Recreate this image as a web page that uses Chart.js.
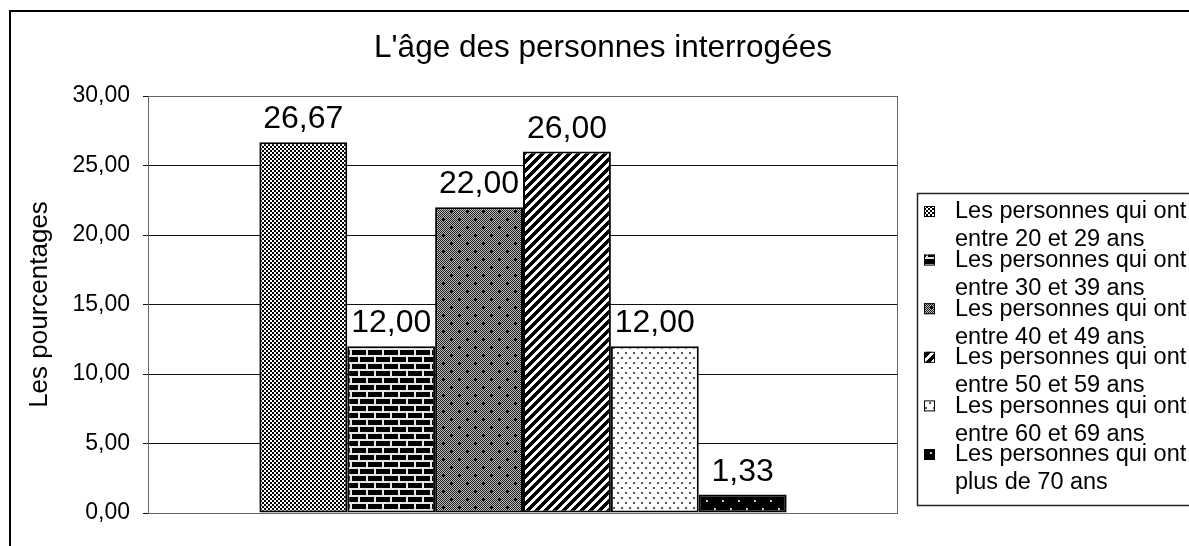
<!DOCTYPE html>
<html>
<head>
<meta charset="utf-8">
<title>L'âge des personnes interrogées</title>
<script src="https://cdn.jsdelivr.net/npm/chart.js@4.4.1/dist/chart.umd.min.js"></script>
<style>
  html, body { margin: 0; padding: 0; background: #fff; }
</style>
</head>
<body>
<canvas id="myChart" width="1189" height="546"></canvas>
<script>
var titre = "L'âge des personnes interrogées";
var titreAxe = "Les pourcentages";
var debutLegende = "Les personnes qui ont";
var tranches = ["entre 20 et 29 ans", "entre 30 et 39 ans", "entre 40 et 49 ans",
                "entre 50 et 59 ans", "entre 60 et 69 ans", "plus de 70 ans"];
var pourcentages = [26.67, 12.00, 22.00, 26.00, 12.00, 1.33];
var graduations = [0, 5, 10, 15, 20, 25, 30];

var police = "'Liberation Sans', Arial, sans-serif";

function virgule(v) {
  return v.toFixed(2).replace('.', ',');
}

// petits motifs noir et blanc pour remplir les barres
function motif(w, h, dessin) {
  var c = document.createElement('canvas');
  c.width = w; c.height = h;
  var g = c.getContext('2d');
  dessin(g, w, h);
  return g.createPattern(c, 'repeat');
}
function px(g, x, y, col, s) {
  g.fillStyle = col;
  g.fillRect(x, y, s || 1, s || 1);
}

var motifs = [
  // damier
  motif(4, 4, function (g) {
    g.fillStyle = '#fff'; g.fillRect(0, 0, 4, 4);
    px(g, 0, 0, '#000', 2); px(g, 2, 2, '#000', 2);
  }),
  // briques
  motif(16, 14, function (g) {
    g.fillStyle = '#000'; g.fillRect(0, 0, 16, 14);
    g.fillStyle = '#e6e6e6';
    g.fillRect(0, 5, 16, 2); g.fillRect(0, 12, 16, 2);
    g.fillRect(14, 0, 2, 5); g.fillRect(6, 7, 2, 5);
  }),
  // gris avec petites croix
  motif(16, 16, function (g) {
    for (var y = 0; y < 16; y++)
      for (var x = 0; x < 16; x++)
        px(g, x, y, (x + y) % 2 ? '#bbb' : '#222');
    [[3, 3], [11, 11]].forEach(function (p) {
      px(g, p[0] - 1, p[1], '#000'); px(g, p[0] + 1, p[1], '#000');
      px(g, p[0], p[1] - 1, '#000'); px(g, p[0], p[1] + 1, '#000');
      px(g, p[0], p[1], '#000');
    });
  }),
  // hachures larges
  motif(9, 9, function (g) {
    for (var y = 0; y < 9; y++)
      for (var x = 0; x < 9; x++)
        px(g, x, y, (x + y) % 9 < 5 ? '#000' : '#fff');
  }),
  // points épars
  motif(8, 10, function (g) {
    g.fillStyle = '#fff'; g.fillRect(0, 0, 8, 10);
    px(g, 1, 2, '#555', 2); px(g, 5, 7, '#555', 2);
  }),
  // noir à points blancs
  motif(16, 16, function (g) {
    g.fillStyle = '#000'; g.fillRect(0, 0, 16, 16);
    px(g, 2, 4, '#ccc', 2); px(g, 10, 12, '#ccc', 2);
  })
];

var jeux = tranches.map(function (t, i) {
  return {
    label: debutLegende + ' ' + t,
    data: [pourcentages[i]],
    backgroundColor: motifs[i],
    borderColor: '#000',
    borderWidth: 2,
    borderSkipped: false,
    barPercentage: 1,
    categoryPercentage: 0.703
  };
});

// cadre, titre, bordure de la zone de tracé, valeurs et légende
var decor = {
  id: 'decor',
  beforeDraw: function (chart) {
    var ctx = chart.ctx;
    ctx.save();
    ctx.fillStyle = '#fff';
    ctx.fillRect(0, 0, chart.width, chart.height);
    ctx.fillStyle = '#000';
    ctx.fillRect(9, 10, chart.width, 2);
    ctx.fillRect(9, 10, 2, chart.height);
    ctx.font = '31.5px ' + police;
    ctx.textAlign = 'center';
    ctx.textBaseline = 'middle';
    ctx.fillText(titre, 603, 48);
    ctx.restore();
  },
  afterDatasetsDraw: function (chart) {
    var ctx = chart.ctx, a = chart.chartArea;
    ctx.save();
    ctx.strokeStyle = '#666';
    ctx.lineWidth = 1;
    ctx.strokeRect(a.left + 0.5, a.top + 0.5, a.right - a.left - 1, a.bottom - a.top);
    ctx.fillStyle = '#000';
    ctx.font = '32px ' + police;
    ctx.textAlign = 'center';
    ctx.textBaseline = 'alphabetic';
    chart.data.datasets.forEach(function (ds, i) {
      var bar = chart.getDatasetMeta(i).data[0];
      ctx.fillText(virgule(ds.data[0]), bar.x, bar.y - 14);
    });
    ctx.restore();
  },
  afterDraw: function (chart) {
    var ctx = chart.ctx;
    ctx.save();
    ctx.strokeStyle = '#222';
    ctx.lineWidth = 1.5;
    ctx.strokeRect(917.5, 193.5, 320, 312);
    ctx.font = '23.5px ' + police;
    ctx.textAlign = 'left';
    ctx.textBaseline = 'middle';
    tranches.forEach(function (t, i) {
      var y = 212 + i * 48.6;
      ctx.fillStyle = motifs[i];
      ctx.fillRect(924, y - 6, 11, 11);
      ctx.strokeStyle = '#000';
      ctx.lineWidth = 1;
      ctx.strokeRect(924.5, y - 5.5, 10, 10);
      ctx.fillStyle = '#000';
      ctx.fillText(debutLegende, 955, y);
      ctx.fillText(t, 955, y + 28);
    });
    ctx.restore();
  }
};

var ctx = document.getElementById('myChart').getContext('2d');
var chart = new Chart(ctx, {
  type: 'bar',
  data: {
    labels: [''],
    datasets: jeux
  },
  options: {
    responsive: false,
    animation: false,
    layout: { padding: { left: 0, right: 291, top: 96, bottom: 33 } },
    plugins: {
      legend: { display: false },
      title: { display: false },
      tooltip: { enabled: false }
    },
    scales: {
      x: { display: false },
      y: {
        min: graduations[0],
        max: graduations[graduations.length - 1],
        afterBuildTicks: function (s) {
          s.ticks = graduations.map(function (v) { return { value: v }; });
        },
        afterFit: function (s) { s.width = 148; },
        ticks: {
          color: '#000',
          padding: 13,
          font: { family: police, size: 23 },
          callback: function (v) { return virgule(v); }
        },
        grid: { color: '#111', lineWidth: 1, tickLength: 5 },
        border: { color: '#666', width: 1 },
        title: {
          display: true,
          text: titreAxe,
          color: '#000',
          font: { family: police, size: 26 },
          padding: { top: 24, bottom: 0 }
        }
      }
    }
  },
  plugins: [decor]
});
</script>
</body>
</html>
